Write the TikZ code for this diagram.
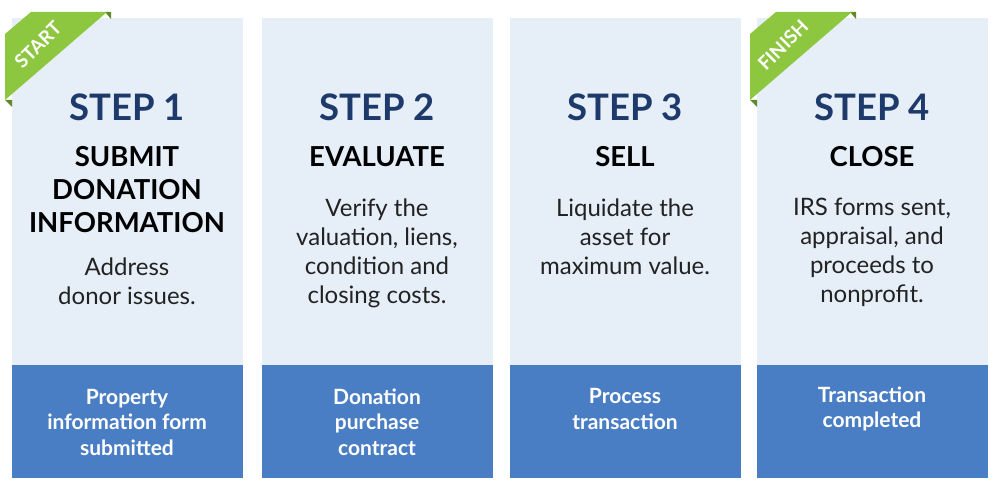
\documentclass[tikz,border=0pt]{standalone}
\usepackage{fontspec}
\setmainfont{Lato}
\begin{document}
\begin{tikzpicture}[x=1pt,y=-1pt,
 stepT/.style={text=navy,font=\bfseries\fontsize{36.5}{40}\selectfont},
 headT/.style={text=black,font=\bfseries\fontsize{27.5}{33}\selectfont,align=center},
 bodyT/.style={text=darkgray,font=\fontsize{24}{29}\selectfont,align=center},
 footT/.style={text=white,font=\bfseries\fontsize{21}{25.5}\selectfont,align=center},
 ribT/.style={text=white,font=\bfseries\fontsize{19}{20}\selectfont,rotate=45,inner sep=0pt}]
\definecolor{lightcol}{HTML}{E6EEF8}
\definecolor{footcol}{HTML}{4A7EC4}
\definecolor{navy}{HTML}{1E3A6A}
\definecolor{darkgray}{HTML}{222222}
\definecolor{ribgreen}{HTML}{8DC63F}
\definecolor{ribdark}{HTML}{5E8A2A}
\useasboundingbox (0,0) rectangle (1000,500);
\foreach \i/\x in {1/12,2/262,3/510,4/757}{
  \fill[lightcol] (\x,18) rectangle ++(231,347);
  \fill[footcol] (\x,365) rectangle ++(231,113);
}
\foreach \x/\t in {5/START,750/FINISH}{
 \begin{scope}[shift={(\x,0)}]
  \fill[ribdark] (100,12) -- (106,12) -- (106,19) -- cycle;
  \fill[ribdark] (0,100) -- (7,107) -- (7,100) -- cycle;
  \fill[ribgreen] (0,100) -- (0,34) -- (26,12) -- (102,12) -- cycle;
  \node[ribT] (r\t) at (33,45) {\t};
 \end{scope}}
\node[stepT] (s1) at (127,107) {STEP 1};
\node[stepT] (s2) at (377,107) {STEP 2};
\node[stepT] (s3) at (625,107) {STEP 3};
\node[stepT] (s4) at (872,107) {STEP 4};
\node[headT,anchor=north] (h1) at (127,143) {SUBMIT\\DONATION\\INFORMATION};
\node[headT,anchor=north] (h2) at (377,143) {EVALUATE};
\node[headT,anchor=north] (h3) at (625,143) {SELL};
\node[headT,anchor=north] (h4) at (872,143) {CLOSE};
\node[bodyT,anchor=north] (b1) at (127,254) {Address\\donor issues.};
\node[bodyT,anchor=north] (b2) at (377,195) {Verify the\\valuation, liens,\\condition and\\closing costs.};
\node[bodyT,anchor=north] (b3) at (625,195) {Liquidate the\\asset for\\maximum value.};
\node[bodyT,anchor=north] (b4) at (872,195) {IRS forms sent,\\appraisal, and\\proceeds to\\nonprofit.};
\node[footT] (f1) at (127,422) {Property\\information form\\submitted};
\node[footT] (f2) at (377,422) {Donation\\purchase\\contract};
\node[footT] (f3) at (625,409) {Process\\transaction};
\node[footT] (f4) at (872,409) {Transaction\\completed};
\end{tikzpicture}
\end{document}
